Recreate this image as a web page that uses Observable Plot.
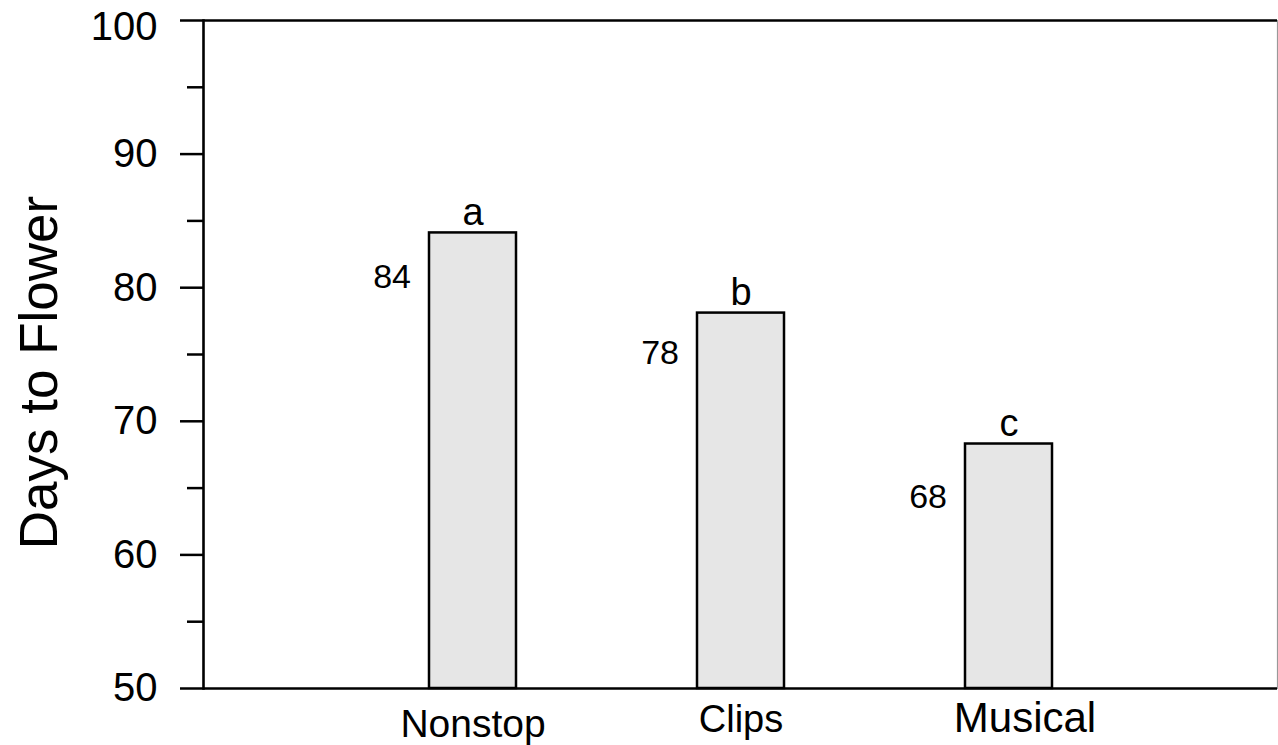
<!DOCTYPE html>
<html><head><meta charset="utf-8">
<script src="https://cdn.jsdelivr.net/npm/d3@7"></script>
<script src="https://cdn.jsdelivr.net/npm/@observablehq/plot@0.6"></script>
<style>body{margin:0;background:#fff} svg{display:block}</style>
</head><body><div id="chart"></div>
<script>
const cultivars = ["Nonstop", "Clips", "Musical"];
const daysToFlower = [84.1, 78.1, 68.3];
const valueLabels = ["84", "78", "68"];
const groupLetters = ["a", "b", "c"];
const yMajorTicks = [50, 60, 70, 80, 90, 100];
const yMinorTicks = [55, 65, 75, 85, 95];
const yLabel = "Days to Flower";

const data = cultivars.map((c, i) => ({cultivar: c, days: daysToFlower[i], value: valueLabels[i], letter: groupLetters[i]}));

const font = '"Liberation Sans", Arial, Helvetica, sans-serif';
const valueText = (name, dy) => Plot.text(data, {filter: d => d.cultivar === name, x: "cultivar", y: "days", text: "value", textAnchor: "end", dx: -62, dy, fontSize: 34});
const topTick = yMajorTicks[yMajorTicks.length - 1];

const chart = Plot.plot({
  width: 1278, height: 745,
  marginLeft: 203, marginRight: 1, marginTop: 20, marginBottom: 57,
  style: {fontFamily: font, color: "#000", background: "#fff"},
  x: {type: "band", domain: cultivars, paddingInner: 0.676, paddingOuter: 0.838},
  y: {domain: [50, 100]},
  marks: [
    Plot.frame({anchor: "right", stroke: "#999", strokeWidth: 1.2}),
    Plot.barY(data, {x: "cultivar", y1: 50, y2: "days", fill: "#e6e6e6", stroke: "#000", strokeWidth: 2.5}),
    Plot.ruleY([50, 100], {stroke: "#000", strokeWidth: 2.6}),
    Plot.frame({anchor: "left", stroke: "#000", strokeWidth: 2.6}),
    Plot.axisY(yMajorTicks.filter(t => t !== topTick), {tickSize: 23, tickPadding: 23, fontSize: 40, strokeWidth: 2.5, label: null}),
    Plot.axisY([topTick], {tickSize: 23, tickFormat: () => "", strokeWidth: 2.5, label: null}),
    Plot.axisY([topTick], {tickSize: 0, tickPadding: 46, dy: 7, fontSize: 40, label: null}),
    Plot.axisY(yMinorTicks, {tickSize: 16, tickFormat: () => "", strokeWidth: 2.5, label: null}),
    Plot.axisX(["Nonstop"], {tickSize: 0, tickPadding: 21, fontSize: 39, label: null}),
    Plot.axisX(["Clips"], {tickSize: 0, tickPadding: 17, fontSize: 38, label: null}),
    Plot.axisX(["Musical"], {tickSize: 0, tickPadding: 14, dx: 16, fontSize: 42, label: null}),
    valueText("Nonstop", 44),
    valueText("Clips", 40),
    valueText("Musical", 53),
    Plot.text(data, {x: "cultivar", y: "days", text: "letter", dy: -20, fontSize: 38}),
    Plot.text([yLabel], {frameAnchor: "left", textAnchor: "middle", rotate: -90, dx: -163, dy: 18, fontSize: 53})
  ]
});
document.getElementById("chart").appendChild(chart);
</script>
</body></html>
